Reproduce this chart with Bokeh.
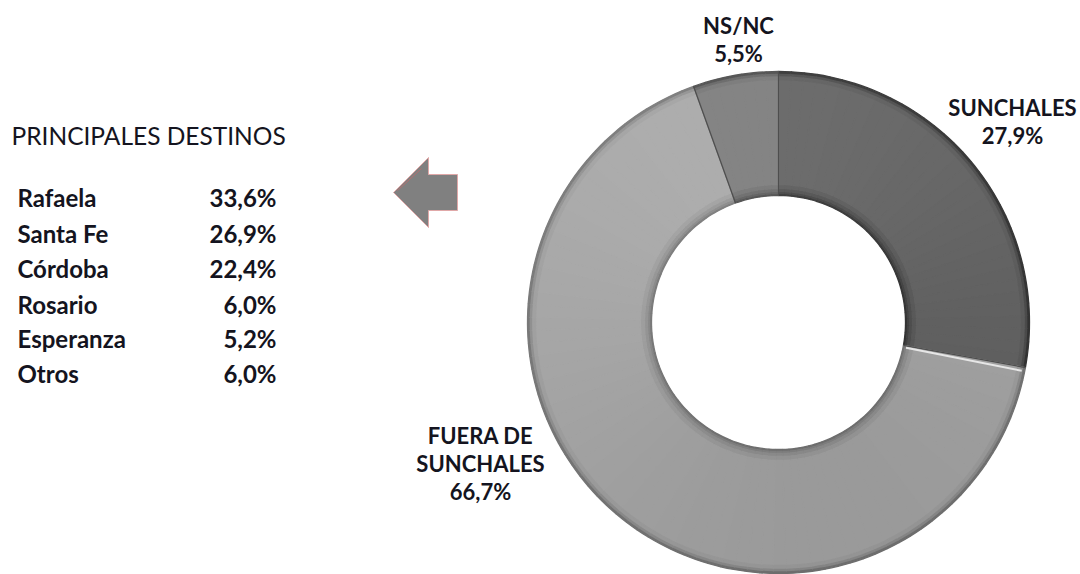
import math
from bokeh.plotting import figure
from bokeh.models import Range1d, ColumnDataSource
from bokeh.core.properties import value
from bokeh.embed import file_html
from bokeh.resources import INLINE

# ---------------- data ----------------
segments = ["SUNCHALES", "FUERA DE SUNCHALES", "NS/NC"]
shares = [27.9, 66.7, 5.5]
destinations = ["Rafaela", "Santa Fe", "Córdoba", "Rosario", "Esperanza", "Otros"]
dest_shares = [33.6, 26.9, 22.4, 6.0, 5.2, 6.0]
title_text = "PRINCIPALES DESTINOS"

# ---------------- layout / style ----------------
W, H = 1080, 574
CX, CY = 778, 574 - 322
R_OUT, R_IN = 251, 127
base_grey = [100, 164, 123]           # per segment
label_lines = [["SUNCHALES"], ["FUERA DE", "SUNCHALES"], ["NS/NC"]]
label_x = [1012, 480, 738]
label_y_top = [107, 435, 25]           # image coords of first line
LINE_STEP = 28
LABEL_SIZE = "22px"
FONT = "Lato"
TXT = "#141420"

def fmt(v):
    return f"{v:.1f}".replace(".", ",") + "%"

def Y(y_img):
    return H - y_img

p = figure(width=W, height=H, x_range=Range1d(0, W), y_range=Range1d(0, H),
           output_backend="svg", toolbar_location=None, min_border=0)
p.axis.visible = False
p.grid.visible = False
p.outline_line_color = None
p.background_fill_color = "white"
p.border_fill_color = "white"

# ---------------- donut ----------------
total = sum(shares)
bounds = [0.0]
for s in shares:
    bounds.append(bounds[-1] + s / total)
angle_of = lambda f: math.pi / 2 - 2 * math.pi * f

# radial shading profile (bevel look)
bands = [(R_IN, R_IN + 2, -45), (R_IN + 2, R_IN + 4, -30), (R_IN + 4, R_IN + 7, -18),
         (R_IN + 7, R_IN + 11, -8), (R_IN + 11, R_OUT - 8, 0), (R_OUT - 8, R_OUT - 4, -6),
         (R_OUT - 4, R_OUT - 1.5, -22), (R_OUT - 1.5, R_OUT, -45)]

src = dict(s=[], e=[], ri=[], ro=[], c=[])
step = math.radians(3)
for i, (f0, f1) in enumerate(zip(bounds[:-1], bounds[1:])):
    a0, a1 = angle_of(f0), angle_of(f1)
    n = max(1, int(math.ceil((a0 - a1) / step)))
    for k in range(n):
        s_a = a0 - (a0 - a1) * k / n
        e_a = a0 - (a0 - a1) * (k + 1) / n
        mid = (s_a + e_a) / 2
        light = 9 * math.sin(mid) - 3 * math.cos(mid)
        for (r0, r1, d) in bands:
            g = int(max(0, min(255, base_grey[i] + light + d)))
            src["s"].append(s_a)
            src["e"].append(e_a)
            src["ri"].append(r0)
            src["ro"].append(r1)
            src["c"].append("#%02x%02x%02x" % (g, g, g))

p.annular_wedge(x=CX, y=CY, inner_radius="ri", outer_radius="ro",
                start_angle="s", end_angle="e", direction="clock",
                fill_color="c", line_color="c", line_width=1.3,
                source=ColumnDataSource(src))

# boundaries between segments
for f in bounds[:-1]:
    a = angle_of(f)
    p.segment(x0=CX + R_IN * math.cos(a), y0=CY + R_IN * math.sin(a),
              x1=CX + R_OUT * math.cos(a), y1=CY + R_OUT * math.sin(a),
              line_color="#4e4e4e", line_width=1.2)
# highlight on the light segment's edge (SUNCHALES / FUERA)
a = angle_of(bounds[1]) - math.radians(0.9)
p.segment(x0=CX + (R_IN + 3) * math.cos(a), y0=CY + (R_IN + 3) * math.sin(a),
          x1=CX + (R_OUT - 3) * math.cos(a), y1=CY + (R_OUT - 3) * math.sin(a),
          line_color="#e6e6e6", line_width=2)

# labels
for i in range(len(segments)):
    lines = label_lines[i] + [fmt(shares[i])]
    for j, t in enumerate(lines):
        p.text(x=[label_x[i]], y=[Y(label_y_top[i] + j * LINE_STEP)], text=[t],
               text_font=value(FONT), text_font_style="bold",
               text_font_size=LABEL_SIZE, text_color=TXT,
               text_align="center", text_baseline="middle")

# ---------------- arrow ----------------
ax = [393, 428, 428, 457, 457, 428, 428]
ay = [192, 157, 174, 174, 210, 210, 227]
p.patch(x=ax, y=[Y(v) for v in ay], fill_color="#808080",
        line_color="#e0a8a8", line_width=1)
p.line(x=[397, 421], y=[Y(190), Y(168)], line_color="#c06a6a", line_width=1, line_alpha=0.8)

# ---------------- table ----------------
p.text(x=[11], y=[Y(135)], text=[title_text], text_font=value(FONT),
       text_font_size="24.5px", text_color=TXT, text_align="left", text_baseline="middle")
row_y = [197, 233, 268, 304, 338, 373]
p.text(x=[17] * len(destinations), y=[Y(v) for v in row_y], text=destinations,
       text_font=value(FONT), text_font_style="bold", text_font_size="24px",
       text_color=TXT, text_align="left", text_baseline="middle")
p.text(x=[276] * len(dest_shares), y=[Y(v) for v in row_y],
       text=[fmt(v) for v in dest_shares],
       text_font=value(FONT), text_font_style="bold", text_font_size="24px",
       text_color=TXT, text_align="right", text_baseline="middle")

open("out.html", "w").write(file_html(p, INLINE))
